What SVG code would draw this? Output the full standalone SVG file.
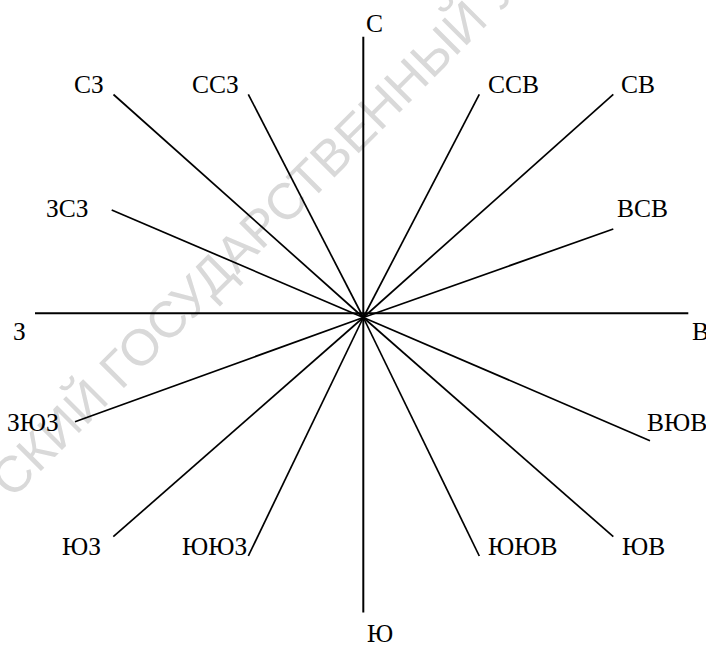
<svg xmlns="http://www.w3.org/2000/svg" width="706" height="647" viewBox="0 0 706 647">
<style>
.lbl{font-family:"Liberation Serif","Times New Roman",serif;font-size:25.5px;fill:#000}
.axis{stroke:#000;stroke-width:2;fill:none}
.ray{stroke:#000;stroke-width:1.7;fill:none;stroke-linecap:butt}
.wm{font-family:"Liberation Sans",Arial,sans-serif;font-size:51px;fill:#d9d9d9}
</style>
<rect width="706" height="647" fill="#fff"/>
<text class="wm" transform="translate(12,500) rotate(-45)">СКИЙ ГОСУДАРСТВЕННЫЙ У</text>
<g id="connectors">
<line class="axis" x1="363.3" y1="36.7" x2="363.3" y2="612.6"/>
<line class="axis" x1="35" y1="313.3" x2="688.3" y2="313.3"/>
<line class="ray" x1="113.5" y1="94.5" x2="363.3" y2="317.5"/>
<line class="ray" x1="248.3" y1="94.3" x2="363.3" y2="317.5"/>
<line class="ray" x1="479.3" y1="94.3" x2="363.3" y2="317.5"/>
<line class="ray" x1="613.3" y1="94.3" x2="363.3" y2="317.5"/>
<line class="ray" x1="111.7" y1="210" x2="363.3" y2="317.5"/>
<line class="ray" x1="613.3" y1="229" x2="363.3" y2="317.5"/>
<line class="ray" x1="75" y1="421.7" x2="363.3" y2="317.5"/>
<line class="ray" x1="650" y1="440.7" x2="363.3" y2="317.5"/>
<line class="ray" x1="113.3" y1="536.7" x2="363.3" y2="317.5"/>
<line class="ray" x1="248.3" y1="556" x2="363.3" y2="317.5"/>
<line class="ray" x1="479.3" y1="556" x2="363.3" y2="317.5"/>
<line class="ray" x1="613.3" y1="536.7" x2="363.3" y2="317.5"/>
</g>
<g id="n-C"><text class="lbl" x="366" y="32">С</text></g>
<g id="n-SZ"><text class="lbl" x="74" y="93">СЗ</text></g>
<g id="n-SSZ"><text class="lbl" x="192" y="93">ССЗ</text></g>
<g id="n-SSV"><text class="lbl" x="488" y="93">ССВ</text></g>
<g id="n-SV"><text class="lbl" x="621" y="93">СВ</text></g>
<g id="n-ZSZ"><text class="lbl" x="46" y="217">ЗСЗ</text></g>
<g id="n-VSV"><text class="lbl" x="617" y="217">ВСВ</text></g>
<g id="n-Z"><text class="lbl" x="13" y="340">З</text></g>
<g id="n-V"><text class="lbl" x="692" y="340">В</text></g>
<g id="n-ZYuZ"><text class="lbl" x="7" y="431">ЗЮЗ</text></g>
<g id="n-VYuV"><text class="lbl" x="647" y="431">ВЮВ</text></g>
<g id="n-YuZ"><text class="lbl" x="62" y="555">ЮЗ</text></g>
<g id="n-YuYuZ"><text class="lbl" x="182" y="555">ЮЮЗ</text></g>
<g id="n-YuYuV"><text class="lbl" x="488" y="555">ЮЮВ</text></g>
<g id="n-YuV"><text class="lbl" x="622" y="555">ЮВ</text></g>
<g id="n-Yu"><text class="lbl" x="367" y="642">Ю</text></g>
</svg>
